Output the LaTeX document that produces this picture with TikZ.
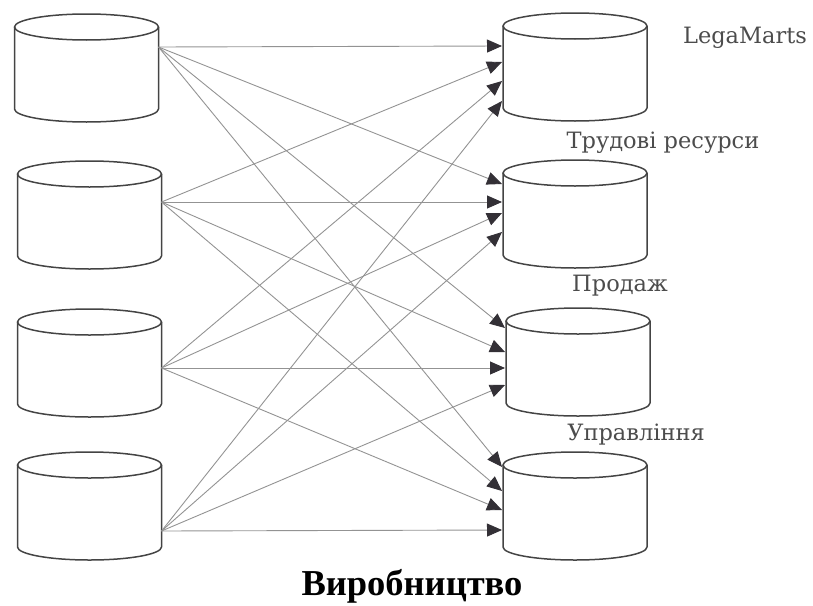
\documentclass[tikz,border=0pt]{standalone}
\usepackage{fontspec}
\setmainfont{DejaVu Serif}
\newfontfamily\titlefont{Liberation Serif}
\usetikzlibrary{arrows.meta}
\definecolor{drumgray}{HTML}{444444}
\definecolor{linkgray}{HTML}{939393}
\definecolor{tipgray}{HTML}{333036}
\definecolor{labelgray}{HTML}{4C4C4C}
\begin{document}
\begin{tikzpicture}[x=1pt,y=1pt,
  drumline/.style={draw=drumgray, line width=1.5pt},
  link/.style={draw=linkgray, line width=0.9pt,
    -{Triangle[length=15pt,width=13pt,color=tipgray]}},
  caption/.style={text=labelgray, font=\fontsize{22.5}{26}\selectfont,
    anchor=base, inner sep=0pt},
  heading/.style={text=black, font=\titlefont\bfseries\fontsize{36.5}{42}\selectfont,
    anchor=base, inner sep=0pt},
  drum/.pic={
    \draw[drumline] (0,0) ellipse [x radius=72, y radius=13];
    \draw[drumline] (-72,0) -- (-72,-82)
      arc [start angle=180, end angle=360, x radius=72, y radius=13]
      -- (72,0);
  }]
\useasboundingbox (0,0) rectangle (813,-605);

% source databases (left column)
\pic (L1) at (86.5,-27) {drum};
\pic (L2) at (89.5,-174) {drum};
\pic (L3) at (89.5,-322) {drum};
\pic (L4) at (89.5,-465) {drum};

% target databases (right column)
\pic (R1) at (575,-26) {drum};
\pic (R2) at (575,-173) {drum};
\pic (R3) at (578,-321) {drum};
\pic (R4) at (575,-465) {drum};

% outgoing points on the left drums
\coordinate (s1) at (158.5,-47);
\coordinate (s2) at (161.5,-202);
\coordinate (s3) at (161.5,-368);
\coordinate (s4) at (161.5,-531);

% incoming points on the right drums: (t<target><source>)
\coordinate (t11) at (502,-46);
\coordinate (t12) at (502,-62);
\coordinate (t13) at (502,-81);
\coordinate (t14) at (502,-101);
\coordinate (t21) at (502,-184);
\coordinate (t22) at (502,-202);
\coordinate (t23) at (502,-213);
\coordinate (t24) at (502,-232);
\coordinate (t31) at (505,-328);
\coordinate (t32) at (505,-352);
\coordinate (t33) at (505,-368);
\coordinate (t34) at (505,-385);
\coordinate (t41) at (502,-467);
\coordinate (t42) at (502,-491);
\coordinate (t43) at (502,-510);
\coordinate (t44) at (502,-530);

% every source feeds every target
\foreach \s in {1,2,3,4}{
  \foreach \t in {1,2,3,4}{
    \draw[link] (s\s) -- (t\t\s);
  }
}

% captions
\node[caption] (capA) at (745,-43) {LegaMarts};
\node[caption] (capB) at (663,-148) {Трудові ресурси};
\node[caption] (capC) at (620,-291) {Продаж};
\node[caption] (capD) at (636,-440) {Управління};
\node[heading] (title) at (412,-595) {Виробництво};
\end{tikzpicture}
\end{document}
